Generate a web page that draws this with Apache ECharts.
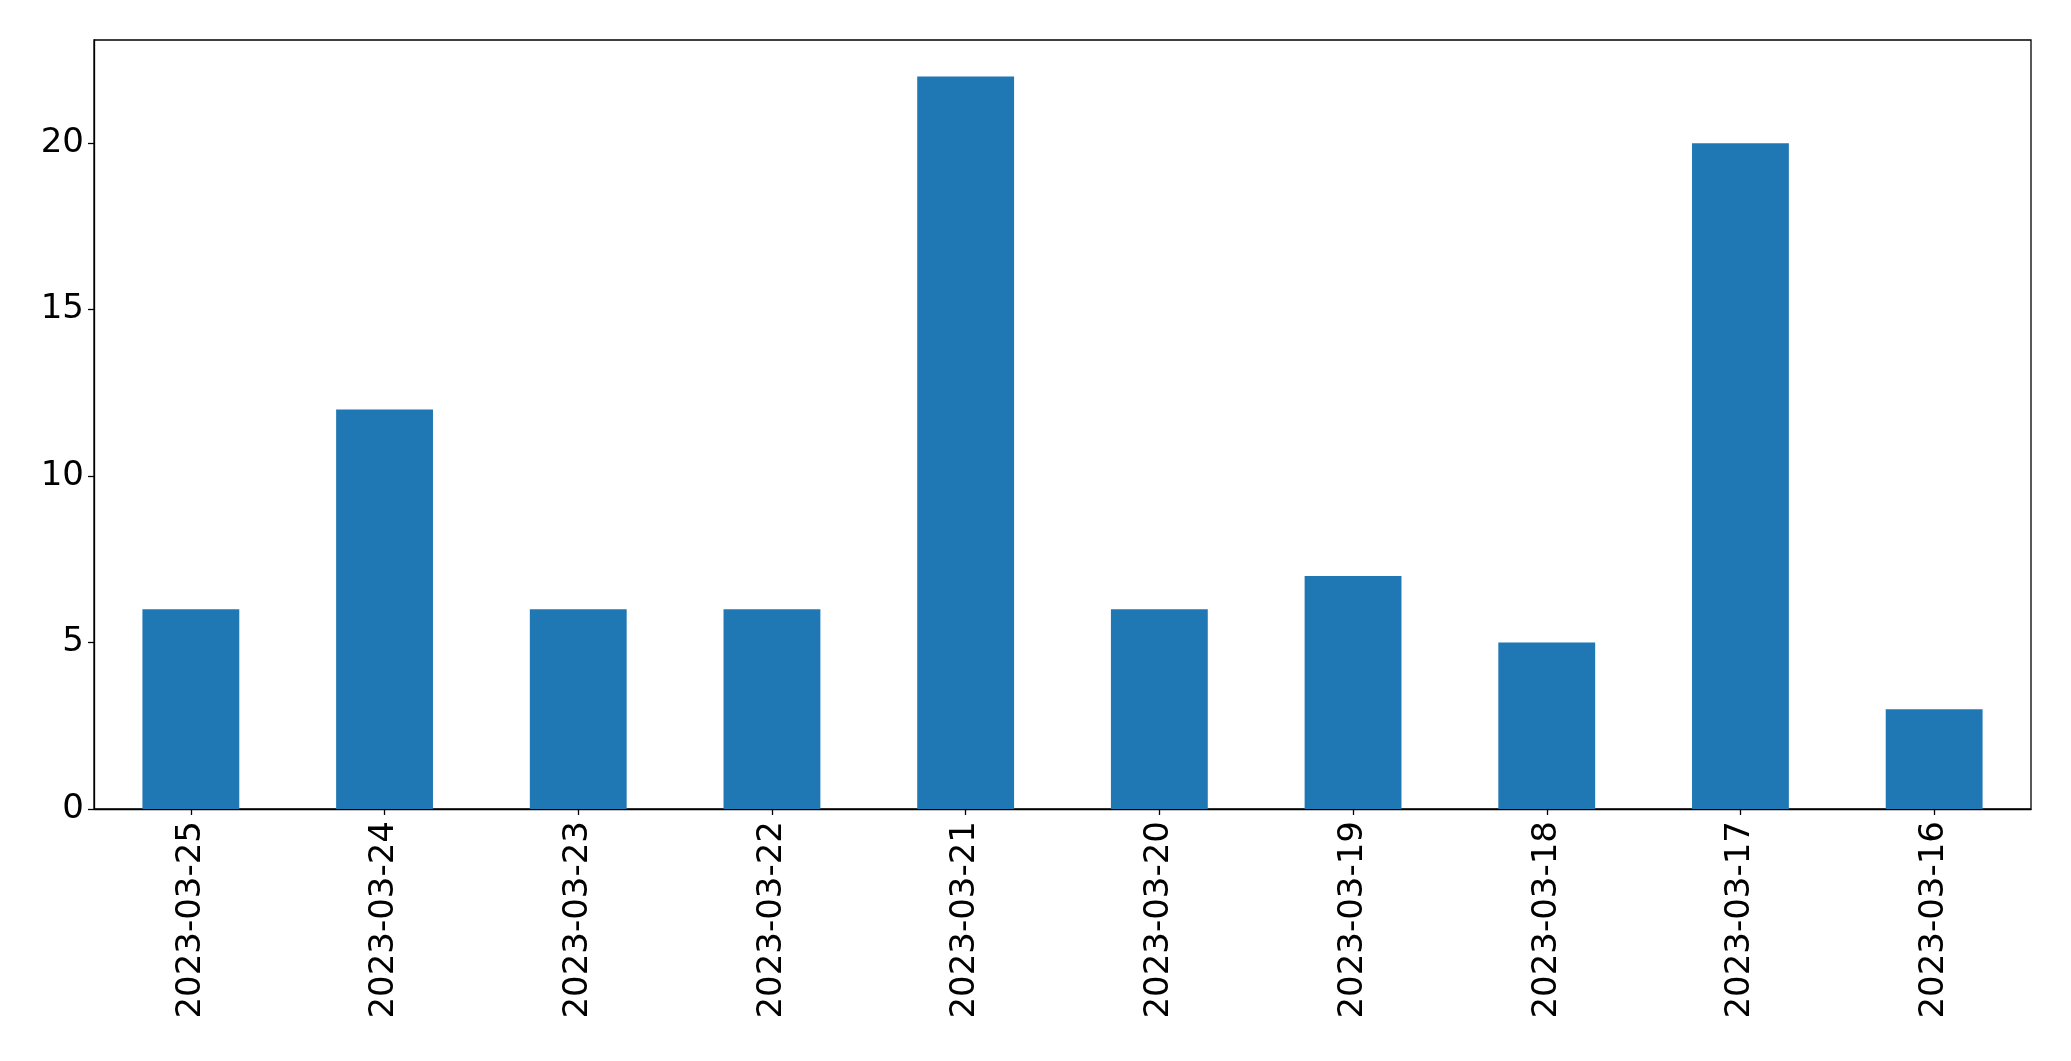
<!DOCTYPE html>
<html><head><meta charset="utf-8">
<script src="https://cdn.jsdelivr.net/npm/echarts@6/dist/echarts.min.js"></script>
<style>html,body{margin:0;padding:0;background:#fff}#c{width:2071px;height:1061px}</style>
</head><body><div id="c"></div>
<script>
const categories = ["2023-03-25","2023-03-24","2023-03-23","2023-03-22","2023-03-21","2023-03-20","2023-03-19","2023-03-18","2023-03-17","2023-03-16"];
const values = [6,12,6,6,22,6,7,5,20,3];
const yTicks = [0,5,10,15,20];
const yMax = 23.1;
const chart = echarts.init(document.getElementById('c'), null, {renderer:'canvas'});
chart.setOption({
  animation:false,
  grid:{left:94,right:40,top:40,bottom:252,show:true,borderColor:'#000',borderWidth:1.3,backgroundColor:'transparent'},
  xAxis:{type:'category',data:categories,boundaryGap:true,
    axisLine:{show:true,lineStyle:{color:'#000',width:1.3}},
    axisTick:{show:true,alignWithLabel:true,length:6,lineStyle:{color:'#000',width:1.3}},
    axisLabel:{rotate:90,fontSize:34,fontFamily:'DejaVu Sans',color:'#000',margin:12,interval:0}},
  yAxis:{type:'value',min:0,max:yMax,interval:5,
    axisLine:{show:true,lineStyle:{color:'#000',width:1.3}},
    axisTick:{show:true,length:6,customValues:yTicks,lineStyle:{color:'#000',width:1.3}},
    splitLine:{show:false},
    axisLabel:{fontSize:34,fontFamily:'DejaVu Sans',color:'#000',margin:10,customValues:yTicks}},
  series:[{type:'bar',data:values,barWidth:'50%',itemStyle:{color:'#1f77b4'}}]
});
</script></body></html>
